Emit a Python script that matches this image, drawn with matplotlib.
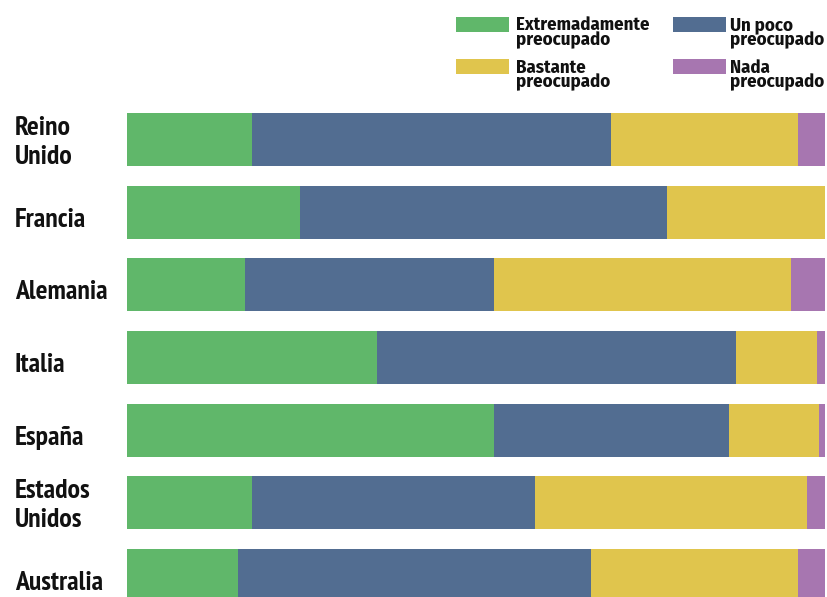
import matplotlib
matplotlib.use("Agg")
import matplotlib.pyplot as plt
import matplotlib.transforms as mtransforms
from matplotlib.patches import Rectangle

countries = ["Reino\nUnido", "Francia", "Alemania", "Italia", "España", "Estados\nUnidos", "Australia"]
extremadamente = [17.9, 24.8, 16.9, 35.8, 52.6, 17.9, 15.9]
un_poco = [51.4, 52.6, 35.7, 51.4, 33.7, 40.5, 50.6]
bastante = [26.8, 22.6, 42.5, 11.7, 12.9, 39.0, 29.6]
nada = [3.9, 0.0, 4.9, 1.1, 0.8, 2.6, 3.9]
series_labels = ["Extremadamente\npreocupado", "Un poco\npreocupado", "Bastante\npreocupado", "Nada\npreocupado"]
colors = ["#60B76A", "#526D91", "#E0C54D", "#A776B0"]

LABEL_FONT = ["PT Sans Narrow", "DejaVu Sans"]
LEG_FONT = ["Fira Sans Condensed", "PT Sans Narrow", "DejaVu Sans"]

W, H = 827, 597
DPI = 100
fig = plt.figure(figsize=(W / DPI, H / DPI), dpi=DPI)
ax = fig.add_axes([127 / W, 0, 698 / W, (597 - 100) / H])

series = [extremadamente, un_poco, bastante, nada]
ypos = list(range(len(countries)))
left = [0.0] * len(countries)
for vals, col in zip(series, colors):
    ax.barh(ypos, vals, left=left, height=0.73, color=col, linewidth=0)
    left = [l + v for l, v in zip(left, vals)]

ax.set_xlim(0, 100)
ax.set_ylim(6.296, -0.5436)
ax.axis("off")

base = mtransforms.blended_transform_factory(fig.transFigure, ax.transData)


def px_offset(dy_px):
    # positive dy_px moves downward on the image
    return base + mtransforms.ScaledTranslation(0, -dy_px / DPI, fig.dpi_scale_trans)


for i, c in enumerate(countries):
    lines = c.split("\n")
    offs = [14.5] if len(lines) == 1 else [-4.5, 24.5]
    for ln, off in zip(lines, offs):
        ax.text(15 / W, i, ln, transform=px_offset(off), ha="left", va="baseline",
                fontsize=20, fontweight="bold", family=LABEL_FONT, color="#111111")

# Legend (manual)
patch_pos = [(456, 17), (673, 17), (456, 59), (673, 59)]
text_x = [516, 730, 516, 730]
baselines = [(30, 45.5), (30, 45.5), (73, 87.5), (73, 87.5)]
for k, (px, py) in enumerate(patch_pos):
    fig.patches.append(Rectangle((px / W, 1 - (py + 15) / H), 53 / W, 15 / H,
                                 transform=fig.transFigure, color=colors[k], linewidth=0))
    for ln, by in zip(series_labels[k].split("\n"), baselines[k]):
        fig.text(text_x[k] / W, 1 - by / H, ln, ha="left", va="baseline",
                 fontsize=13.5, fontweight="bold", family=LEG_FONT, color="#111111")

fig.savefig("out.png", dpi=DPI)
